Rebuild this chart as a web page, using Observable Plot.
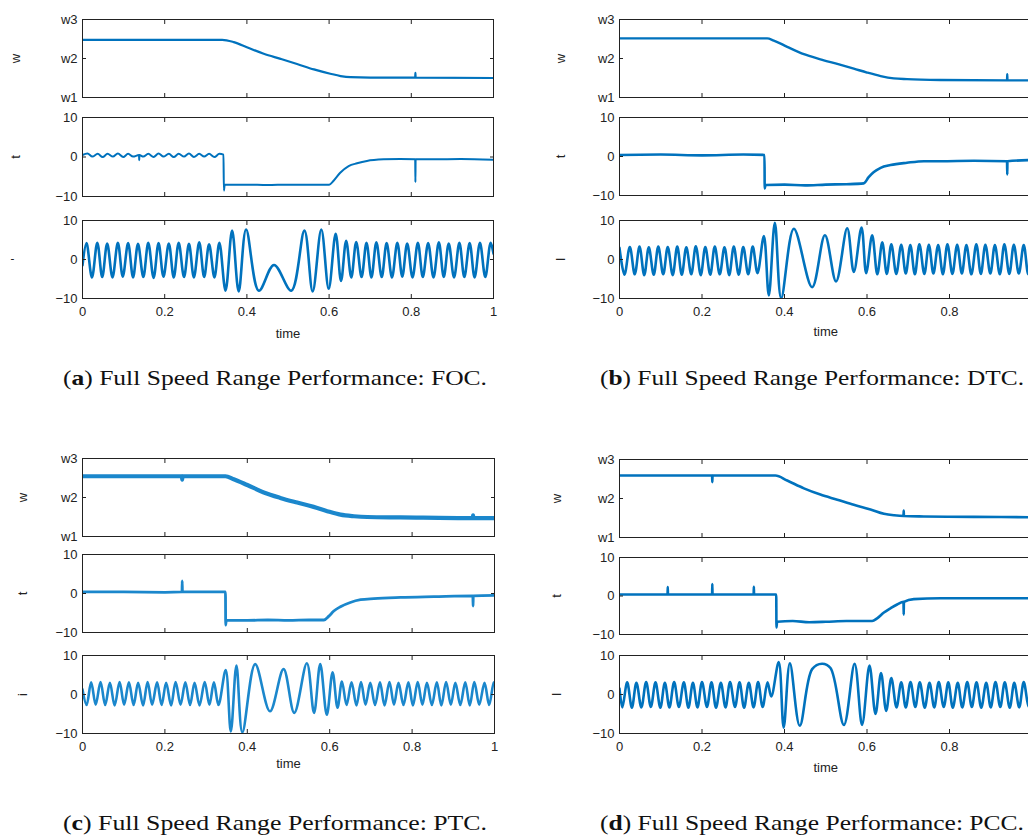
<!DOCTYPE html>
<html>
<head>
<meta charset="utf-8">
<script src="https://cdn.jsdelivr.net/npm/d3@7"></script>
<script src="https://cdn.jsdelivr.net/npm/@observablehq/plot@0.6"></script>
<style>
  html, body { margin: 0; padding: 0; background: #fff; overflow: hidden; }
  #fig { position: relative; width: 1028px; height: 839px; overflow: hidden; background: #fff; }
  #fig svg { position: absolute; overflow: visible; }
  .cap { position: absolute; font-family: "Liberation Serif", "DejaVu Serif", serif; font-size: 22px; color: #111; white-space: nowrap; transform-origin: 0 50%; }
</style>
</head>
<body>
<div id="fig"></div>
<script>
// ---------- tick values / labels ----------
const timeTicks = [0, 0.2, 0.4, 0.6, 0.8, 1];
const speedTicks = [1, 2, 3];
const speedTickLabels = ["w1", "w2", "w3"];
const ampTicks = [-10, 0, 10];

// ---------- captions ----------
const captionLetters = ["a", "b", "c", "d"];
const captionMethods = ["FOC", "DTC", "PTC", "PCC"];
const captionText = "Full Speed Range Performance: ";
const yLabels = [["w", "t", "'"], ["w", "t", "I"], ["w", "t", "i"], ["w", "t", "I"]];

// ---------- (a) FOC ----------
const focSpeed = [[0,2.48],[0.34,2.48],[0.368,2.42],[0.40,2.29],[0.441,2.12],[0.482,1.99],[0.522,1.86],[0.563,1.72],[0.603,1.61],[0.628,1.55],[0.652,1.52],[0.70,1.51],[0.8095,1.51],[0.81,1.63],[0.8105,1.51],[1.0,1.50]];
const focTorque = [[0,0.5],[0.012,0.9],[0.024,0.1],[0.037,0.8],[0.049,0.0],[0.061,0.8],[0.074,0.1],[0.086,0.9],[0.099,0.0],[0.111,0.8],[0.123,0.1],[0.1375,0.5],[0.138,-0.8],[0.1385,0.5],[0.148,0.1],[0.160,0.8],[0.173,0.0],[0.185,0.9],[0.197,0.1],[0.210,0.8],[0.222,0.0],[0.234,0.8],[0.247,0.1],[0.259,0.9],[0.271,0.0],[0.284,0.8],[0.296,0.1],[0.308,0.8],[0.321,0.0],[0.333,0.8],[0.343,0.6],[0.344,-8.5],[0.346,-7.0],[0.40,-7.0],[0.45,-7.1],[0.50,-7.0],[0.55,-7.0],[0.60,-7.0],[0.611,-6.0],[0.627,-4.0],[0.6475,-2.3],[0.668,-1.6],[0.692,-1.0],[0.7326,-0.6],[0.773,-0.5],[0.8095,-0.6],[0.81,-6.4],[0.8105,-0.6],[0.854,-0.6],[0.92,-0.5],[1.0,-0.7]];
const focCurrent = [[0,-1.5],[0.0097,4.2],[0.023,-4.6],[0.036,4.3],[0.048,-4.5],[0.060,4.1],[0.073,-4.6],[0.086,4.3],[0.098,-4.4],[0.111,4.2],[0.123,-4.6],[0.135,4.0],[0.148,-4.5],[0.160,4.3],[0.173,-4.7],[0.185,4.2],[0.197,-4.4],[0.210,4.1],[0.222,-4.6],[0.234,4.3],[0.247,-4.5],[0.259,4.0],[0.271,-4.6],[0.284,4.4],[0.296,-4.5],[0.308,3.9],[0.321,-4.6],[0.333,4.3],[0.348,-8.0],[0.364,7.4],[0.380,-8.2],[0.398,7.7],[0.429,-8.0],[0.466,-1.4],[0.508,-8.0],[0.540,7.4],[0.560,-8.2],[0.581,7.7],[0.599,-7.5],[0.616,6.6],[0.629,-5.5],[0.6415,4.8],[0.654,-4.6],[0.666,4.5],[0.679,-4.5],[0.691,4.3],[0.703,-4.6],[0.715,4.4],[0.728,-4.5],[0.740,4.2],[0.753,-4.6],[0.766,4.3],[0.778,-4.4],[0.790,4.1],[0.803,-4.6],[0.816,4.3],[0.828,-4.5],[0.841,4.2],[0.854,-4.6],[0.867,4.4],[0.879,-4.5],[0.891,4.1],[0.904,-4.6],[0.917,4.3],[0.929,-4.5],[0.942,4.2],[0.954,-4.6],[0.967,4.3],[0.980,-4.5],[0.993,4.3],[1.0,1.5]];

// ---------- (b) DTC ----------
const dtcSpeed = [[0,2.515],[0.358,2.515],[0.374,2.46],[0.4065,2.30],[0.447,2.11],[0.487,1.98],[0.528,1.86],[0.568,1.74],[0.60,1.64],[0.633,1.55],[0.665,1.49],[0.697,1.47],[0.778,1.45],[0.9395,1.44],[0.94,1.60],[0.9405,1.44],[1.0,1.44]];
const dtcTorque = [[0,0.4],[0.1,0.5],[0.2,0.3],[0.3,0.5],[0.3515,0.4],[0.352,-8.2],[0.354,-7.3],[0.40,-7.2],[0.45,-7.4],[0.50,-7.2],[0.55,-7.1],[0.592,-6.9],[0.604,-5.3],[0.6166,-4.0],[0.633,-2.9],[0.657,-2.2],[0.697,-1.6],[0.738,-1.2],[0.778,-1.2],[0.859,-1.1],[0.9395,-1.2],[0.94,-4.6],[0.9405,-1.2],[1.0,-0.9]];
const dtcCurrent = [[0,3.0],[0.012,-3.9],[0.025,3.2],[0.037,-3.8],[0.0485,3.3],[0.060,-4.0],[0.071,3.1],[0.083,-3.9],[0.094,3.3],[0.106,-3.8],[0.117,3.2],[0.129,-4.0],[0.140,3.3],[0.151,-3.9],[0.162,3.1],[0.174,-3.8],[0.185,3.4],[0.197,-4.0],[0.208,3.2],[0.220,-3.9],[0.231,3.3],[0.243,-3.8],[0.2545,3.1],[0.266,-4.0],[0.277,3.3],[0.289,-3.9],[0.300,3.2],[0.312,-3.8],[0.323,3.3],[0.3345,-3.5],[0.350,6.0],[0.362,-9.2],[0.3766,9.4],[0.392,-9.9],[0.4226,7.9],[0.467,-7.1],[0.498,6.2],[0.525,-5.6],[0.552,8.0],[0.568,-3.2],[0.5867,8.2],[0.598,-3.5],[0.6125,6.2],[0.625,-3.8],[0.637,4.4],[0.648,-3.7],[0.659,3.9],[0.671,-3.7],[0.683,3.8],[0.694,-3.6],[0.705,3.7],[0.716,-3.8],[0.727,3.9],[0.739,-3.7],[0.750,3.8],[0.761,-3.6],[0.7725,3.7],[0.784,-3.8],[0.795,3.9],[0.807,-3.7],[0.8186,3.8],[0.830,-3.6],[0.841,3.7],[0.853,-3.8],[0.865,3.9],[0.876,-3.7],[0.887,3.8],[0.899,-3.6],[0.910,3.7],[0.922,-3.8],[0.933,3.9],[0.945,-3.7],[0.956,3.8],[0.968,-3.6],[0.980,3.7],[0.991,-3.8],[1.0,0.5]];

// ---------- (c) PTC ----------
const ptcSpeed = [[0,2.545],[0.2415,2.545],[0.242,2.46],[0.2425,2.545],[0.347,2.545],[0.367,2.47],[0.40,2.32],[0.44,2.13],[0.48,1.99],[0.521,1.87],[0.561,1.76],[0.594,1.65],[0.626,1.56],[0.659,1.52],[0.691,1.50],[0.772,1.49],[0.9475,1.47],[0.948,1.54],[0.9485,1.47],[1.0,1.47]];
const ptcTorque = [[0,0.4],[0.1,0.4],[0.2,0.3],[0.2415,0.4],[0.242,3.2],[0.2425,0.4],[0.3,0.4],[0.347,0.4],[0.3475,-8.1],[0.349,-6.9],[0.40,-6.9],[0.45,-6.8],[0.50,-6.9],[0.55,-6.8],[0.586,-6.8],[0.598,-5.8],[0.61,-4.5],[0.626,-3.4],[0.65,-2.3],[0.675,-1.6],[0.707,-1.3],[0.772,-1.0],[0.853,-0.8],[0.9475,-0.6],[0.948,-3.2],[0.9485,-0.6],[1.0,-0.5]];
const ptcCurrent = [[0,1.3],[0.010,-2.7],[0.021,3.1],[0.032,-2.6],[0.0438,3.2],[0.055,-2.7],[0.0665,3.0],[0.078,-2.8],[0.090,3.2],[0.101,-2.6],[0.1126,3.1],[0.124,-2.7],[0.135,3.0],[0.147,-2.8],[0.158,3.2],[0.169,-2.6],[0.181,3.1],[0.192,-2.7],[0.203,3.0],[0.215,-2.8],[0.226,3.2],[0.238,-2.6],[0.2496,3.1],[0.261,-2.7],[0.272,3.0],[0.284,-2.8],[0.2966,3.2],[0.308,-2.6],[0.319,3.1],[0.330,-2.7],[0.3476,6.3],[0.360,-9.5],[0.3736,7.4],[0.388,-9.7],[0.419,7.8],[0.455,-4.3],[0.488,6.5],[0.514,-4.7],[0.5446,8.0],[0.562,-4.7],[0.577,7.8],[0.593,-5.2],[0.607,5.7],[0.619,-3.4],[0.6297,3.3],[0.641,-2.7],[0.653,3.1],[0.665,-2.8],[0.676,3.2],[0.687,-2.6],[0.6985,3.0],[0.710,-2.7],[0.722,3.1],[0.733,-2.8],[0.745,3.2],[0.756,-2.6],[0.767,3.0],[0.779,-2.7],[0.791,3.1],[0.802,-2.8],[0.8136,3.2],[0.825,-2.6],[0.836,3.0],[0.848,-2.7],[0.860,3.1],[0.871,-2.8],[0.8825,3.2],[0.894,-2.6],[0.905,3.0],[0.917,-2.7],[0.929,3.1],[0.940,-2.8],[0.951,3.2],[0.963,-2.6],[0.9757,3.0],[0.987,-2.7],[0.998,3.1],[1.0,2.8]];

// ---------- (d) PCC ----------
const pccSpeed = [[0,2.59],[0.2245,2.59],[0.225,2.42],[0.2255,2.59],[0.378,2.59],[0.4065,2.46],[0.447,2.26],[0.487,2.10],[0.528,1.97],[0.568,1.84],[0.6085,1.72],[0.641,1.61],[0.665,1.57],[0.6885,1.55],[0.689,1.69],[0.6895,1.55],[0.738,1.54],[0.859,1.53],[1.0,1.52]];
const pccTorque = [[0,0.4],[0.1165,0.4],[0.117,2.3],[0.1175,0.4],[0.2245,0.4],[0.225,3.1],[0.2255,0.4],[0.3252,0.4],[0.3257,2.4],[0.3262,0.4],[0.38,0.4],[0.3805,-8.2],[0.382,-6.7],[0.42,-6.5],[0.46,-6.8],[0.50,-6.7],[0.55,-6.5],[0.6125,-6.5],[0.6246,-5.8],[0.641,-4.3],[0.657,-3.2],[0.673,-2.2],[0.6885,-1.5],[0.689,-4.8],[0.6895,-1.5],[0.7135,-0.8],[0.778,-0.6],[0.859,-0.6],[1.0,-0.6]];
const pccCurrent = [[0,1.5],[0.007,-3.3],[0.0186,3.1],[0.030,-3.4],[0.041,3.0],[0.053,-3.3],[0.0646,3.2],[0.076,-3.2],[0.0873,3.1],[0.099,-3.4],[0.110,3.0],[0.121,-3.3],[0.1325,3.2],[0.144,-3.2],[0.156,3.1],[0.167,-3.4],[0.178,3.0],[0.189,-3.3],[0.200,3.2],[0.212,-3.2],[0.223,3.1],[0.234,-3.4],[0.2457,3.0],[0.257,-3.3],[0.268,3.2],[0.280,-3.2],[0.291,3.1],[0.302,-3.4],[0.3135,3.0],[0.325,-3.3],[0.336,3.2],[0.347,-3.2],[0.3588,3.1],[0.368,-0.5],[0.386,8.3],[0.398,-8.5],[0.413,8.0],[0.437,-8.0],[0.467,6.5],[0.491,7.9],[0.5115,6.8],[0.544,-7.8],[0.570,7.9],[0.588,-7.8],[0.606,7.4],[0.6206,-5.0],[0.634,5.5],[0.6465,-4.2],[0.659,4.2],[0.6715,-3.3],[0.683,3.1],[0.694,-3.3],[0.7055,3.2],[0.717,-3.2],[0.728,3.1],[0.740,-3.4],[0.7515,3.0],[0.763,-3.3],[0.774,3.2],[0.786,-3.2],[0.797,3.1],[0.808,-3.4],[0.820,3.0],[0.831,-3.3],[0.843,3.2],[0.854,-3.2],[0.8655,3.1],[0.877,-3.4],[0.889,3.0],[0.900,-3.3],[0.9115,3.2],[0.923,-3.2],[0.934,3.1],[0.946,-3.4],[0.957,3.0],[0.969,-3.3],[0.980,3.2],[0.992,-3.2],[1.0,0]];

// ---------- layout (positions / styles) ----------
const layout = [
  { left: 0,   frame: [[19,97],[117,196],[220,298]], plotW: 411,   color: "#0072BD", sw: [2.2,2.0,2.6], labelOffset: 72, timeOffset: 39, capTop: 378 },
  { left: 537, frame: [[19,97],[117,195],[220,298]], plotW: 412.5, color: "#0072BD", sw: [2.4,2.6,2.6], labelOffset: 64, timeOffset: 37.5, capTop: 378 },
  { left: 0,   frame: [[458,536],[554,632],[655,733]], plotW: 412, color: "#1b87cc", sw: [4.2,2.8,2.6], labelOffset: 65, timeOffset: 34, capTop: 823 },
  { left: 537, frame: [[459,537],[557,634],[655,733]], plotW: 412.5, color: "#0072BD", sw: [2.6,2.6,2.6], labelOffset: 68, timeOffset: 38, capTop: 823 }
];
const series = [
  [focSpeed, focTorque, focCurrent],
  [dtcSpeed, dtcTorque, dtcCurrent],
  [ptcSpeed, ptcTorque, ptcCurrent],
  [pccSpeed, pccTorque, pccCurrent]
];

const fig = document.getElementById("fig");
const ML = 82, MR = 12, MT = 6;
const noText = () => "";

layout.forEach((L, p) => {
  [0, 1, 2].forEach(k => {
    const isSpeed = k === 0, isBottom = k === 2;
    const [top, bottom] = L.frame[k];
    const mb = isBottom ? 48 : 6;
    const chart = Plot.plot({
      width: ML + L.plotW + MR,
      height: MT + (bottom - top) + mb,
      marginLeft: ML, marginRight: MR, marginTop: MT, marginBottom: mb,
      style: { fontFamily: "'Liberation Sans', Arial, Helvetica, sans-serif", fontSize: "13px", color: "#222", background: "transparent", overflow: "visible" },
      x: { domain: [0, 1] },
      y: { domain: isSpeed ? [1, 3] : [-10, 10] },
      marks: [
        Plot.line(series[p][k], { x: d => d[0], y: d => d[1], stroke: L.color, strokeWidth: L.sw[k],
          curve: isBottom ? "catmull-rom" : "monotone-x", clip: true }),
        Plot.frame({ stroke: "#222", strokeWidth: 1 }),
        Plot.axisX({ anchor: "bottom", ticks: timeTicks, tickSize: -4, tickPadding: 12,
          tickFormat: isBottom ? (d => String(d)) : noText,
          label: isBottom ? "time" : null, labelAnchor: "center", labelOffset: L.timeOffset, labelArrow: "none" }),
        Plot.axisX({ anchor: "top", ticks: timeTicks, tickSize: -4, tickFormat: noText, label: null }),
        Plot.axisY({ anchor: "left", ticks: isSpeed ? speedTicks : ampTicks, tickSize: -4, tickPadding: 9,
          tickFormat: isSpeed ? (d => speedTickLabels[speedTicks.indexOf(d)]) : undefined,
          label: yLabels[p][k], labelAnchor: "center", labelOffset: L.labelOffset, labelArrow: "none" }),
        Plot.axisY({ anchor: "right", ticks: isSpeed ? speedTicks : ampTicks, tickSize: -4, tickFormat: noText, label: null })
      ]
    });
    chart.style.left = L.left + "px";
    chart.style.top = (top - MT) + "px";
    fig.appendChild(chart);
  });

  const cap = document.createElement("div");
  cap.className = "cap";
  cap.innerHTML = "(<b>" + captionLetters[p] + "</b>) " + captionText + captionMethods[p] + ".";
  cap.style.left = (L.left + 63) + "px";
  cap.style.top = (L.capTop - 13) + "px";
  fig.appendChild(cap);
  const w = cap.getBoundingClientRect().width;
  cap.style.transform = "scaleX(" + (424 / w) + ")";
});
</script>
</body>
</html>
